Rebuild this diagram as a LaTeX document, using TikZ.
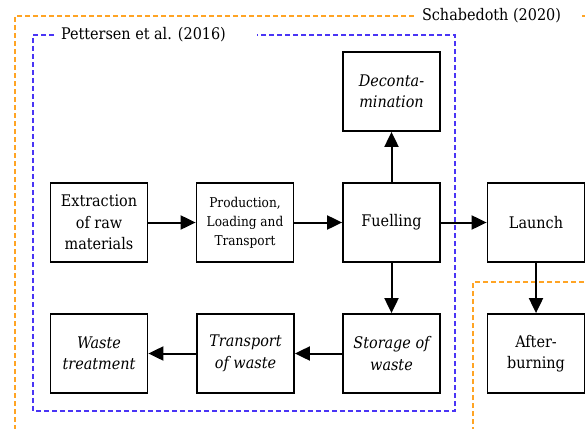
\documentclass[tikz,border=0pt]{standalone}
\usepackage{fontspec}
\setmainfont{DejaVu Serif Condensed}
\usetikzlibrary{arrows.meta}
\definecolor{dashorange}{HTML}{FFA424}
\definecolor{dashblue}{HTML}{4A35F5}
\tikzset{
  stepbox/.style={draw=black, line width=1.8pt, minimum width=97pt, minimum height=79pt,
    align=center, inner sep=2pt, font=\fontsize{16}{21.5}\selectfont},
  smallbox/.style={stepbox, font=\fontsize{13.5}{19}\selectfont},
  itbox/.style={stepbox, font=\fontsize{16}{21.5}\selectfont\itshape},
  flow/.style={line width=2pt, -{Triangle[length=15pt,width=14pt]}},
  orangeline/.style={draw=dashorange, line width=1.6pt, dash pattern=on 5pt off 3pt},
  blueline/.style={draw=dashblue, line width=1.6pt, dash pattern=on 5pt off 3pt},
  grouplabel/.style={inner sep=1pt, font=\fontsize{16}{18}\selectfont}
}
\begin{document}
\begin{tikzpicture}[x=1pt,y=-1pt]
\useasboundingbox (0,0) rectangle (585,428);
% group frames
\coordinate (oA) at (414,16);
\coordinate (oB) at (15,16);
\coordinate (oC) at (15,432);
\coordinate (oD) at (582,16);
\coordinate (oE) at (592,16);
\draw[orangeline] (oA) -- (oB) -- (oC);
\draw[orangeline] (oD) -- (oE);
\node[grouplabel] (schab) at (491.5,16) {Schabedoth (2020)};
\coordinate (pA) at (473,432);
\coordinate (pB) at (473,282);
\coordinate (pC) at (592,282);
\draw[orangeline] (pA) -- (pB) -- (pC);
\coordinate (bA) at (54,35);
\coordinate (bB) at (33,35);
\coordinate (bC) at (33,411);
\coordinate (bD) at (455,411);
\coordinate (bE) at (455,35);
\coordinate (bF) at (257,35);
\draw[blueline] (bA) -- (bB) -- (bC) -- (bD) -- (bE) -- (bF);
\node[grouplabel] (pett) at (143.5,35) {Pettersen et al. (2016)};
% boxes
\node[stepbox] (ext) at (99,222.5) {Extraction\\of raw\\materials};
\node[smallbox] (prod) at (245,222.5) {Production,\\Loading and\\Transport};
\node[stepbox] (fuel) at (391.5,222.5) {Fuelling};
\node[stepbox] (launch) at (536,222.5) {Launch};
\node[itbox] (decon) at (391.5,91.5) {Deconta-\\mination};
\node[itbox] (stor) at (391.5,353.5) {Storage of\\waste};
\node[itbox] (trans) at (245.5,353.5) {Transport\\of waste};
\node[itbox] (waste) at (99,353.5) {Waste\\treatment};
\node[stepbox] (after) at (536,353.5) {After-\\burning};
% flows
\draw[flow] (ext) -- (prod);
\draw[flow] (prod) -- (fuel);
\draw[flow] (fuel) -- (launch);
\draw[flow] (fuel) -- (decon);
\draw[flow] (fuel) -- (stor);
\draw[flow] (stor) -- (trans);
\draw[flow] (trans) -- (waste);
\draw[flow] (launch) -- (after);
\end{tikzpicture}
\end{document}
